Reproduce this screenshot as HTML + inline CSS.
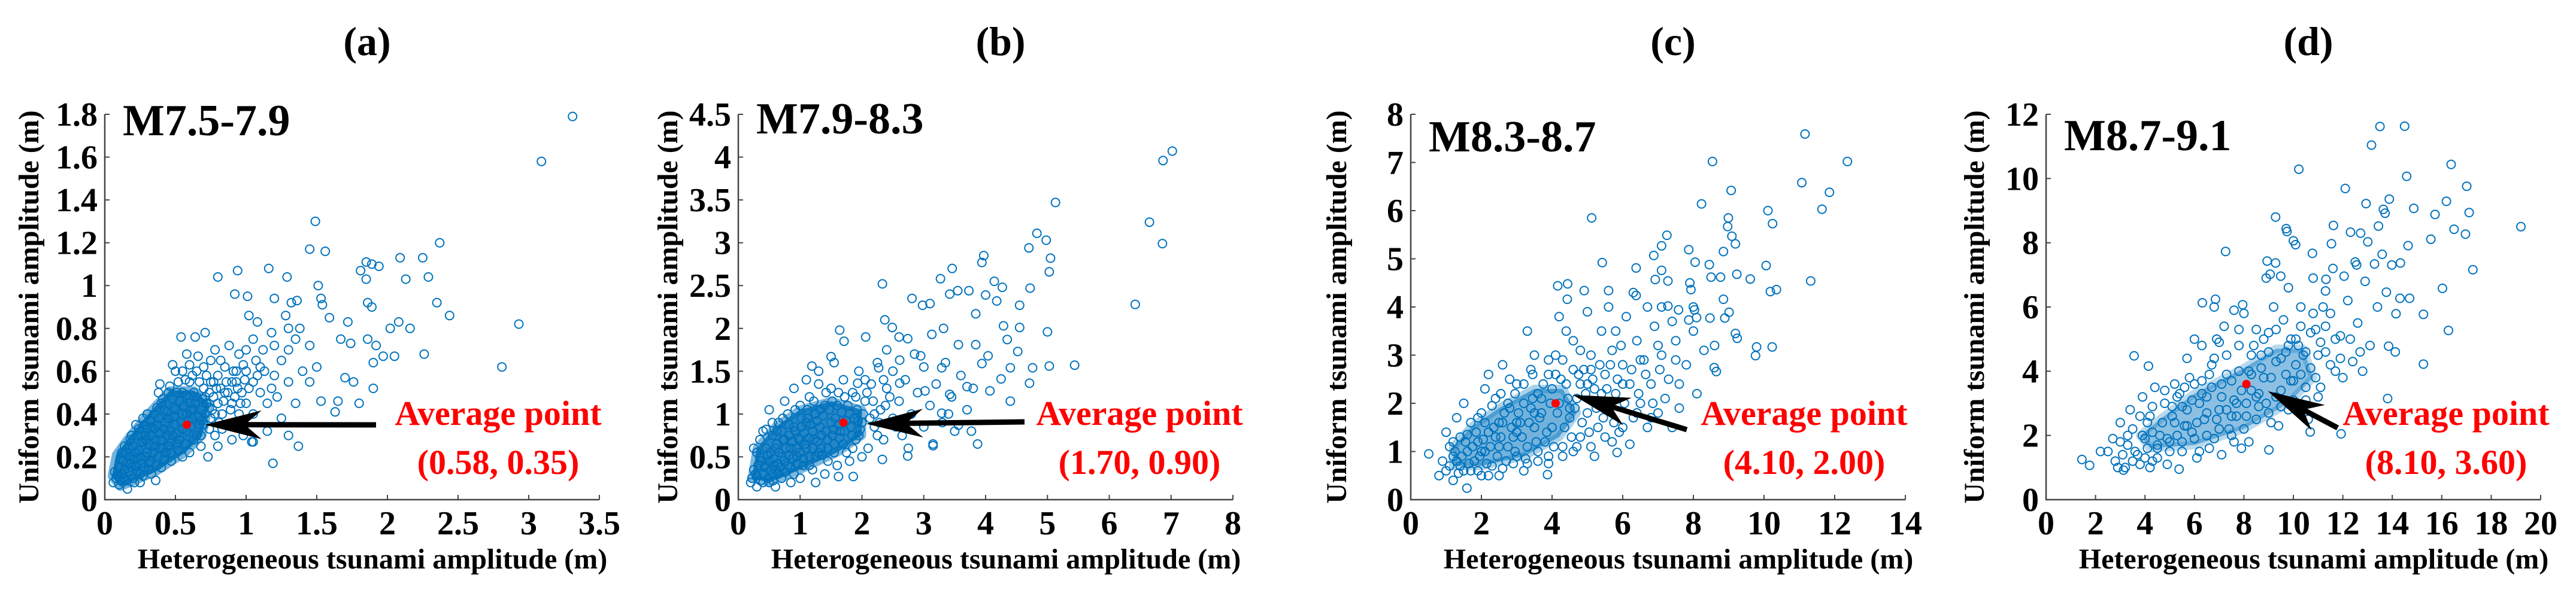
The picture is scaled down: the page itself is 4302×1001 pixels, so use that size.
<!DOCTYPE html>
<html><head><meta charset="utf-8"><style>
html,body{margin:0;padding:0;background:#fff}
svg{display:block}
svg text{font-family:"Liberation Serif","DejaVu Serif","Times New Roman",Times,serif !important;font-weight:bold}
</style></head><body>
<svg id="fig" width="4302" height="1001" viewBox="0 0 4302 1001" xmlns="http://www.w3.org/2000/svg"></svg>
<script>
// ---------- data ----------
const ptsA = [[3.31,1.79],[3.09,1.58],[1.49,1.30],[2.37,1.20],[1.45,1.17],[1.56,1.16],[2.09,1.13],[2.25,1.13],[1.16,1.08],[0.94,1.07],[0.80,1.04],[1.29,1.04],[1.85,1.11],[1.89,1.10],[1.94,1.09],[1.81,1.07],[1.85,1.03],[2.13,1.03],[2.29,1.04],[1.51,1.00],[0.92,0.96],[1.01,0.95],[1.20,0.94],[1.53,0.94],[1.54,0.91],[1.32,0.92],[1.36,0.93],[2.35,0.92],[1.86,0.92],[1.89,0.90],[2.93,0.82],[2.44,0.86],[2.08,0.83],[2.02,0.80],[2.16,0.80],[1.02,0.86],[1.08,0.83],[1.28,0.86],[1.59,0.85],[1.72,0.83],[1.67,0.75],[1.74,0.73],[1.86,0.75],[1.92,0.72],[1.97,0.67],[2.05,0.67],[2.26,0.68],[2.81,0.62],[1.90,0.64],[1.90,0.52],[1.70,0.57],[1.76,0.55],[1.80,0.45],[1.65,0.46],[1.63,0.41],[1.53,0.46],[1.37,0.25],[1.30,0.30],[1.19,0.17],[1.04,0.27],[0.54,0.76],[0.64,0.76],[0.71,0.78],[0.48,0.63],[0.39,0.54],
[0.08,0.10],[0.1,0.07],[0.12,0.12],[0.15,0.09],[0.1,0.15],[0.13,0.18],[0.17,0.13],[0.2,0.1],[0.18,0.2],[0.22,0.16],[0.25,0.12],[0.15,0.22],[0.2,0.25],[0.25,0.2],[0.28,0.15],[0.3,0.22],[0.27,0.27],[0.23,0.3],[0.32,0.18],[0.35,0.25],[0.33,0.3],[0.3,0.33],[0.38,0.2],[0.4,0.28],[0.37,0.35],[0.35,0.4],[0.42,0.33],[0.45,0.25],[0.45,0.38],[0.42,0.42],[0.48,0.3],[0.5,0.35],[0.5,0.42],[0.48,0.47],[0.53,0.28],[0.55,0.4],[0.55,0.5],[0.58,0.32],[0.6,0.45],[0.6,0.55],[0.62,0.38],[0.65,0.3],[0.65,0.48],[0.68,0.42],[0.7,0.35],[0.7,0.52],[0.72,0.45],[0.75,0.38],[0.75,0.55],[0.78,0.3],[0.8,0.45],[0.8,0.58],[0.83,0.4],[0.85,0.5],[0.88,0.35],[0.9,0.55],[0.9,0.45],[0.93,0.6],[0.95,0.4],[0.97,0.5],[1.0,0.45],[1.0,0.6],[1.05,0.55],[1.05,0.4],[1.1,0.5],[1.1,0.62],[1.15,0.45],[1.2,0.58],[1.22,0.48],[1.25,0.65],[1.3,0.55],[1.35,0.45],[1.4,0.6],[1.0,0.7],[1.05,0.75],[1.12,0.7],[1.18,0.78],[0.95,0.68],[0.88,0.72],[0.85,0.62],[0.75,0.65],[0.7,0.62],[0.65,0.6],[0.6,0.63],[0.55,0.6],[0.52,0.55],[0.45,0.5],[0.4,0.45],[0.38,0.5],[0.3,0.4],[0.28,0.35],[0.22,0.35],[0.18,0.28],[0.12,0.22],[0.07,0.13],[0.06,0.08],[0.16,0.05],[0.25,0.08],[0.33,0.12],[0.4,0.15],[0.47,0.18],[0.55,0.2],[0.6,0.22],[0.68,0.25],[0.73,0.2],[0.8,0.25],[0.9,0.28],[0.98,0.3],[1.05,0.27],[1.15,0.32],[1.25,0.38],[0.43,0.22],[0.52,0.23],[0.36,0.09],[0.29,0.28],[0.44,0.3],[0.58,0.4],[0.63,0.5],[0.67,0.35],[0.77,0.48],[0.82,0.52],[0.92,0.48],[1.3,0.7],[1.35,0.75],[1.45,0.55],[1.5,0.62],[1.2,0.72],[1.45,0.72],[1.38,0.8],[1.3,0.8],
[0.09,0.11],[0.11,0.09],[0.14,0.14],[0.16,0.17],[0.19,0.15],[0.21,0.19],[0.24,0.23],[0.26,0.17],[0.29,0.2],[0.31,0.26],[0.34,0.22],[0.36,0.28],[0.39,0.31],[0.41,0.24],[0.43,0.36],[0.46,0.32],[0.49,0.39],[0.51,0.31],[0.54,0.36],[0.56,0.44],[0.59,0.37],[0.61,0.42],[0.64,0.45],[0.66,0.39],[0.69,0.47],[0.71,0.4],[0.74,0.5],[0.76,0.42],[0.79,0.52],[0.81,0.36],[0.84,0.46],[0.86,0.55],[0.89,0.42],[0.91,0.6],[0.94,0.52],[0.96,0.45],[0.99,0.56],[0.14,0.25],[0.19,0.3],[0.24,0.33],[0.27,0.38],[0.32,0.37],[0.37,0.43],[0.41,0.47],[0.46,0.53],[0.51,0.5],[0.57,0.56],[0.62,0.58],[0.67,0.55],[0.72,0.58],[0.21,0.08],[0.27,0.11],[0.31,0.14],[0.37,0.16],[0.42,0.19],[0.47,0.22],[0.51,0.26],[0.57,0.26],[0.63,0.28],[0.68,0.3],[0.74,0.33],[0.78,0.4],[0.83,0.33],[0.11,0.19],[0.17,0.24],[0.26,0.3],[0.33,0.34],[0.38,0.38],[0.44,0.41],[0.49,0.43],[0.53,0.46],[0.58,0.49],[0.63,0.42],[0.71,0.48],[0.77,0.55],[0.87,0.5],[0.93,0.55],[1.02,0.52],[1.08,0.58],[1.13,0.6],[1.18,0.52],[1.07,0.65],[0.98,0.63],[0.82,0.65],[0.78,0.7],[0.66,0.67],[0.58,0.68],[0.5,0.6],[0.35,0.33],[0.29,0.3],[0.22,0.22],[0.18,0.17],[0.13,0.1],[0.23,0.13],[0.31,0.17],[0.39,0.24],[0.47,0.27],[0.55,0.33],[0.61,0.34],[0.69,0.37],[0.74,0.43]];
const ptsB = [[7.02,4.07],[6.87,3.96],[5.13,3.47],[6.65,3.24],[6.86,2.99],[4.83,3.11],[4.98,3.03],[4.70,2.94],[5.05,2.82],[5.03,2.66],[6.42,2.28],[3.97,2.85],[3.94,2.77],[3.46,2.70],[3.27,2.58],[2.33,2.52],[4.14,2.55],[4.27,2.48],[4.72,2.47],[3.42,2.40],[3.55,2.44],[3.73,2.44],[4.00,2.39],[2.81,2.35],[2.98,2.27],[3.10,2.29],[4.18,2.32],[4.55,2.27],[3.84,2.17],[2.37,2.10],[2.49,2.01],[3.32,2.00],[5.00,1.96],[4.55,2.01],[4.29,2.03],[4.35,1.87],[4.52,1.73],[4.04,1.68],[5.44,1.57],[5.03,1.56],[4.76,1.54],[4.40,1.54],[4.71,1.36],[4.40,1.15],[3.87,0.65],[1.64,1.98],[1.71,1.85],[1.50,1.67],[1.19,1.56],
[2.74,1.88],[3.13,1.93],[3.56,1.81],[3.84,1.81],[3.94,1.59],[3.29,1.54],[2.95,1.68],[2.61,1.63],[2.06,1.90],[2.27,1.54],[1.93,1.36],[2.61,1.36],[3.02,1.27],[3.42,1.23],[3.70,1.32],[4.07,1.27],[4.25,1.41],[3.29,1.01],[3.56,0.87],[3.77,0.80],[3.15,0.63],[2.74,0.51],[2.33,0.47],[1.86,0.27],[1.62,0.27],
[0.2,0.2],[0.25,0.35],[0.3,0.15],[0.35,0.5],[0.4,0.3],[0.45,0.6],[0.5,0.2],[0.5,0.45],[0.55,0.75],[0.6,0.35],[0.6,0.6],[0.65,0.9],[0.7,0.25],[0.7,0.5],[0.75,0.7],[0.8,0.4],[0.8,1.0],[0.85,0.6],[0.9,0.3],[0.9,0.85],[0.95,0.5],[1.0,0.7],[1.0,1.1],[1.05,0.4],[1.1,0.9],[1.1,0.6],[1.15,1.2],[1.2,0.35],[1.2,0.8],[1.25,1.0],[1.3,0.55],[1.3,1.35],[1.35,0.75],[1.4,1.1],[1.45,0.45],[1.5,0.9],[1.5,1.3],[1.55,0.65],[1.6,1.1],[1.65,0.8],[1.7,1.4],[1.75,0.55],[1.8,1.0],[1.85,1.25],[1.9,0.7],[1.95,1.5],[2.0,0.9],[2.05,1.15],[2.1,0.6],[2.15,1.35],[2.2,0.85],[2.25,1.6],[2.3,1.05],[2.35,0.7],[2.4,1.3],[2.5,0.95],[2.5,1.5],[2.6,1.15],[2.65,0.75],[2.7,1.4],[2.8,1.0],[2.85,1.7],[2.9,1.25],[3.0,0.85],[3.0,1.55],[3.1,1.1],[3.2,1.35],[3.3,0.9],[3.35,1.6],[3.45,1.2],[3.5,0.8],[3.6,1.45],[3.7,1.05],[3.8,1.3],[0.3,0.55],[0.4,0.8],[0.5,1.05],[0.6,0.15],[0.75,1.15],[0.9,1.3],[1.0,0.25],[1.1,1.4],[1.25,0.2],[1.4,0.3],[1.6,0.4],[1.8,0.45],[2.0,0.5],[0.25,0.6],[0.55,0.3],[0.85,0.2],[1.7,0.65],[1.15,0.5],[1.45,0.6],[0.7,0.8],[1.95,0.75],[2.2,1.0],[2.45,1.2],[2.75,0.6],[3.15,0.65],[3.4,1.0],[1.55,1.6],[1.3,1.5],[2.6,1.9],[2.4,1.75],
[0.22,0.25],[0.28,0.3],[0.32,0.4],[0.38,0.45],[0.42,0.38],[0.47,0.52],[0.52,0.55],[0.57,0.48],[0.62,0.65],[0.66,0.55],[0.72,0.7],[0.77,0.6],[0.82,0.75],[0.87,0.68],[0.92,0.8],[0.97,0.72],[1.02,0.85],[1.07,0.78],[1.12,0.95],[1.17,0.88],[1.22,0.7],[1.27,0.92],[1.32,0.85],[1.37,0.98],[1.42,0.8],[1.47,1.05],[1.52,0.75],[1.57,0.95],[1.62,0.88],[1.67,1.02],[1.72,0.8],[1.77,1.1],[1.82,0.85],[1.87,0.95],[1.92,1.05],[1.97,0.82],[2.02,1.0],[2.08,1.25],[2.13,0.95],[2.18,1.15],[2.28,0.9],[2.38,1.1],[0.3,0.28],[0.36,0.22],[0.44,0.4],[0.52,0.35],[0.58,0.4],[0.64,0.42],[0.68,0.38],[0.74,0.45],[0.82,0.52],[0.88,0.48],[0.94,0.6],[1.0,0.55],[1.08,0.65],[1.14,0.72],[1.2,0.6],[1.28,0.68],[1.34,0.6],[1.44,0.7],[1.54,0.82],[1.64,0.72],[1.74,0.92],[1.84,0.75],[1.94,0.92],[0.35,0.7],[0.45,0.82],[0.55,0.9],[0.62,0.8],[0.72,0.95],[0.82,0.88],[0.92,1.05],[1.02,0.95],[1.12,1.05],[1.22,1.15],[1.32,1.05],[1.42,1.25],[1.52,1.15],[1.62,1.25],[1.72,1.2],[0.4,0.2],[0.48,0.25],[0.56,0.22],[0.65,0.3],[0.75,0.32],[0.85,0.38],[0.95,0.42],[1.05,0.48],[1.15,0.4],[1.25,0.5],[1.35,0.52],[1.55,0.55],[1.85,0.6],[2.25,0.75],[2.55,0.85],[2.35,1.4],[2.05,1.4],[1.9,1.2]];
const ptsC = [[11.16,7.59],[8.54,7.02],[12.36,7.02],[11.07,6.58],[11.85,6.38],[9.07,6.42],[8.23,6.14],[10.11,6.00],[11.64,6.03],[10.24,5.73],[5.12,5.85],[8.99,5.85],[8.97,5.67],[9.09,5.47],[9.19,5.31],[7.25,5.49],[7.10,5.27],[7.87,5.19],[8.85,5.15],[6.88,5.07],[5.42,4.92],[8.05,4.93],[8.45,4.88],[10.06,4.86],[11.32,4.54],[9.23,4.68],[8.77,4.62],[8.50,4.62],[9.61,4.58],[6.38,4.81],[7.10,4.76],[6.92,4.57],[7.28,4.54],[4.16,4.44],[4.44,4.48],[4.91,4.34],[5.60,4.34],[7.93,4.36],[10.35,4.36],[10.18,4.32],[4.43,4.16],[6.38,4.24],[8.85,4.16],[7.28,4.02],[7.58,3.94],[8.03,3.94],[9.01,3.89],[8.09,3.78],[8.47,3.77],[8.89,3.77],[7.87,3.73],[9.19,3.45],[9.24,3.35],[9.79,3.17],[10.23,3.17],[9.76,2.99],[8.59,2.74],[8.65,2.66],[6.20,1.15],[5.84,0.98],[0.51,0.95],[3.87,0.52],[1.59,0.24],
[0.8,0.5],[0.9,0.8],[1.0,0.6],[1.1,1.1],[1.2,0.4],[1.3,0.8],[1.4,1.3],[1.5,0.6],[1.6,1.0],[1.7,1.6],[1.8,0.8],[1.9,1.2],[2.0,0.5],[2.0,1.8],[2.1,1.0],[2.2,1.4],[2.3,0.7],[2.4,2.1],[2.5,1.1],[2.6,1.6],[2.7,0.8],[2.8,1.9],[2.9,1.3],[3.0,2.4],[3.0,0.9],[3.1,1.6],[3.2,2.0],[3.3,1.1],[3.4,2.7],[3.5,1.5],[3.6,0.8],[3.6,2.2],[3.7,1.8],[3.8,1.2],[3.9,2.6],[4.0,1.5],[4.1,3.0],[4.2,2.0],[4.3,1.1],[4.4,2.4],[4.5,1.7],[4.6,3.3],[4.7,2.1],[4.8,1.3],[4.9,2.7],[5.0,1.8],[5.1,3.0],[5.2,2.3],[5.3,1.5],[5.4,3.5],[5.5,2.6],[5.6,1.9],[5.7,3.1],[5.8,2.2],[5.9,1.4],[6.0,2.8],[6.1,3.8],[6.2,2.4],[6.3,1.7],[6.4,3.3],[6.5,2.0],[6.6,2.9],[6.8,2.4],[6.9,3.6],[7.0,1.8],[7.1,3.0],[7.3,2.5],[7.5,3.3],[7.6,1.9],[7.8,2.8],[8.0,3.5],[8.1,2.2],[8.3,3.1],[1.5,2.0],[2.2,2.6],[2.6,2.8],[3.3,3.5],[4.4,3.5],[5.0,3.9],[5.6,4.0],[6.3,4.3],[7.1,4.0],[7.4,3.7],[8.6,3.2],[8.0,4.0],[7.9,4.5],[1.0,1.4],[1.3,1.7],[2.5,0.5],[3.2,0.6],[3.9,0.9],[4.6,1.0],[5.2,0.9],[5.7,1.2],[6.7,1.5],[7.4,1.5],[3.5,3.0],[2.8,2.5],[4.2,3.8],[5.8,3.5],[6.7,4.0],[1.2,0.9],[1.9,0.6],[2.4,1.3],[3.4,1.9],[2.1,2.3],[4.8,2.4],[3.0,1.4],
[1.1,0.7],[1.25,1.0],[1.35,0.55],[1.45,0.9],[1.55,1.2],[1.65,0.75],[1.75,1.1],[1.85,1.4],[1.95,0.9],[2.05,1.25],[2.15,0.75],[2.25,1.1],[2.35,1.5],[2.45,0.9],[2.55,1.3],[2.65,1.8],[2.75,1.1],[2.85,1.5],[2.95,1.0],[3.05,1.8],[3.15,1.3],[3.25,0.85],[3.35,1.6],[3.45,2.1],[3.55,1.2],[3.65,1.7],[3.75,2.4],[3.85,1.4],[3.95,2.0],[4.05,1.1],[4.15,1.8],[4.25,2.5],[4.35,1.5],[4.45,2.1],[4.55,1.3],[4.65,1.9],[4.75,2.6],[4.85,1.6],[4.95,2.2],[5.05,1.4],[5.15,2.5],[5.25,1.9],[5.35,2.8],[5.45,1.7],[5.55,2.3],[5.65,2.8],[5.75,1.6],[5.85,2.5],[5.95,3.2],[6.05,2.0],[6.25,2.7],[6.45,2.2],[6.65,2.6],[6.85,2.0],[7.05,2.7],[1.6,1.35],[1.9,1.7],[2.1,1.6],[2.3,1.95],[2.55,2.2],[2.75,2.0],[2.95,2.2],[3.2,2.4],[3.45,2.6],[3.7,2.1],[3.9,2.9],[4.1,2.6],[4.3,2.9],[4.6,2.7],[4.8,3.1],[5.1,2.7],[5.4,2.2],[1.2,1.2],[1.4,0.7],[1.7,0.6],[2.2,0.5],[2.6,0.65],[2.9,0.75],[3.3,0.75],[3.6,1.0],[3.9,0.75],[4.3,0.9],[4.7,1.1],[5.1,1.1],[5.5,1.3],[6.0,1.5],[6.4,1.8],[6.8,1.7],[7.2,2.1],[7.6,2.4],[2.0,1.0],[2.5,1.6],[3.0,1.6],[3.5,1.8],[4.0,2.3],[4.5,1.9],[5.0,2.4],[5.5,2.0],[6.0,2.4],[6.5,2.9],[7.0,3.2],[7.5,2.9]];
const ptsD = [[13.50,11.62],[14.50,11.63],[13.16,11.04],[10.22,10.29],[16.38,10.44],[14.58,10.07],[17.01,9.76],[12.10,9.69],[13.88,9.36],[12.94,9.22],[16.19,9.29],[13.64,9.04],[14.87,9.07],[13.71,8.92],[17.11,8.94],[15.73,8.88],[9.28,8.80],[19.20,8.50],[11.62,8.54],[13.44,8.52],[16.50,8.42],[9.71,8.44],[9.74,8.35],[12.31,8.33],[12.72,8.30],[16.96,8.27],[15.56,8.11],[10.00,8.06],[10.09,7.94],[13.01,8.03],[14.64,7.91],[11.54,7.97],[7.26,7.73],[10.77,7.67],[13.59,7.64],[17.26,7.16],[14.33,7.37],[8.94,7.43],[9.28,7.37],[12.56,7.31],[13.28,7.34],[13.98,7.31],[9.06,7.02],[9.49,6.96],[12.05,6.96],[11.32,6.86],[13.76,6.46],[16.03,6.58],[14.70,6.27],[14.31,6.27],[6.85,6.24],[6.32,6.13],[7.95,6.07],[14.15,5.79],[15.26,5.77],[16.27,5.27],[15.26,4.22],[13.85,4.78],[14.12,4.60],[3.56,4.48],[4.14,4.16],[13.81,3.15],[11.93,2.05],[10.68,2.11],[9.01,1.55],[5.38,0.95],[1.45,1.25],[1.76,1.07],[3.13,0.92],
[2.5,1.5],[2.8,1.2],[3.0,1.8],[3.2,1.0],[3.5,2.2],[3.7,1.4],[4.0,1.9],[4.2,2.6],[4.3,1.2],[4.6,2.0],[4.8,3.0],[5.0,1.5],[5.2,2.4],[5.4,3.3],[5.5,1.8],[5.7,2.8],[5.9,2.1],[6.0,3.6],[6.2,1.5],[6.4,2.5],[6.5,3.2],[6.7,4.2],[6.8,1.9],[7.0,2.8],[7.1,3.6],[7.3,4.5],[7.4,2.2],[7.6,3.1],[7.8,4.0],[7.9,1.6],[8.1,2.6],[8.3,3.4],[8.4,4.8],[8.6,2.9],[8.8,3.8],[9.0,5.2],[9.1,2.4],[9.3,3.2],[9.5,4.4],[9.6,5.6],[9.8,2.8],[10.0,3.7],[10.2,4.8],[10.3,6.0],[10.5,3.1],[10.7,4.1],[10.9,5.3],[11.1,3.5],[11.3,4.6],[11.5,5.8],[11.7,4.0],[11.9,5.1],[12.2,6.2],[12.4,4.3],[12.6,5.5],[12.9,6.8],[13.1,4.8],[13.4,6.0],[5.2,3.6],[6.3,4.8],[7.2,5.4],[8.0,5.8],[9.2,6.0],[9.8,6.6],[10.8,6.9],[11.6,7.2],[12.5,7.4],[3.9,3.2],[4.4,3.5],[5.7,4.4],[6.9,5.0],[3.4,2.8],[2.2,1.5],[3.8,1.1],[4.9,1.1],[6.1,1.3],[7.1,1.4],[8.2,1.8],[9.4,2.3],[10.6,2.5],[4.1,2.4],[5.1,2.9],[6.6,3.9],[7.7,3.0],[8.7,4.5],[10.1,4.2],[11.0,4.5],[12.0,3.8],[12.8,4.0],[6.8,6.0],[7.6,5.9],[8.5,5.3],[9.9,5.0],[11.3,6.5],[8.9,6.9],[3.3,2.0],[4.5,1.6],[5.6,2.3],[6.2,3.0],[7.5,2.6],[8.6,3.3],[9.7,3.9],[10.4,4.5],
[3.1,1.4],[3.3,1.7],[3.6,1.5],[3.9,2.0],[4.1,1.6],[4.3,2.1],[4.5,1.7],[4.7,2.4],[4.9,1.9],[5.1,2.6],[5.3,2.0],[5.5,2.9],[5.7,2.3],[5.9,3.1],[6.1,2.4],[6.3,3.3],[6.5,2.7],[6.7,3.5],[6.9,2.5],[7.1,3.2],[7.3,2.8],[7.5,3.7],[7.7,2.6],[7.9,3.4],[8.1,3.0],[8.3,3.9],[8.5,3.2],[8.7,4.1],[8.9,3.0],[9.1,3.8],[9.3,4.3],[9.5,3.4],[9.7,4.6],[9.9,3.7],[10.1,5.0],[10.3,3.9],[10.5,4.6],[10.7,5.2],[10.9,3.8],[11.1,4.9],[11.3,5.4],[11.5,4.2],[11.7,5.0],[11.9,4.4],[3.5,1.2],[4.0,1.3],[4.5,1.3],[5.0,1.8],[5.5,1.5],[6.0,1.9],[6.5,2.0],[7.0,2.2],[7.5,2.0],[8.0,2.2],[8.5,2.5],[9.0,2.7],[9.5,2.9],[10.0,3.1],[10.5,3.5],[11.0,3.2],[4.8,3.4],[5.3,3.2],[5.8,3.8],[6.3,3.7],[6.8,4.4],[7.3,3.9],[7.8,4.8],[8.3,4.5],[8.8,5.0],[9.3,5.3],[9.8,4.8],[10.3,5.4],[10.8,5.8],[11.2,6.0],[12.3,5.0],[12.7,4.6],[6.0,5.0],[7.0,4.9],[7.8,5.3],[8.2,4.0],[9.0,4.6],[3.0,2.4],[2.7,1.9],[3.8,2.6],[4.3,2.9],[5.6,3.5],[2.9,1.0],[4.2,1.0],[6.6,1.6],[7.6,1.8]];
// dense-core outlines (data units) where markers overlap into solid colour
const coreA = [[0.05,0.11],[0.11,0.06],[0.36,0.13],[0.57,0.22],[0.69,0.30],[0.74,0.45],[0.63,0.51],[0.46,0.51],[0.32,0.41],[0.18,0.30],[0.08,0.21]];
const coreB = [[0.22,0.25],[0.5,0.2],[1.0,0.35],[1.6,0.55],[2.0,0.75],[2.0,1.05],[1.5,1.15],[1.0,1.05],[0.6,0.85],[0.3,0.6]];
const coreC = [[1.2,0.7],[2.0,0.7],[3.2,0.9],[4.2,1.3],[4.7,1.8],[4.3,2.3],[3.5,2.3],[2.5,1.9],[1.7,1.5],[1.2,1.1]];
const coreD = [[4.2,1.6],[6,1.7],[8,2.2],[9.8,3.0],[10.8,3.8],[10.4,4.7],[9.3,4.7],[8,4.1],[6,3.3],[4.6,2.5],[3.8,2.0]];
const avgX = [0.58, 1.70, 4.10, 8.10];
const avgY = [0.35, 0.90, 2.00, 3.60];
const avgLabels = ["(0.58, 0.35)", "(1.70, 0.90)", "(4.10, 2.00)", "(8.10, 3.60)"];
const xMax = [3.5, 8, 14, 20];
const yMax = [1.8, 4.5, 8, 12];
const xTicks = [[0,0.5,1,1.5,2,2.5,3,3.5],[0,1,2,3,4,5,6,7,8],[0,2,4,6,8,10,12,14],[0,2,4,6,8,10,12,14,16,18,20]];
const yTicks = [[0,0.2,0.4,0.6,0.8,1,1.2,1.4,1.6,1.8],[0,0.5,1,1.5,2,2.5,3,3.5,4,4.5],[0,1,2,3,4,5,6,7,8],[0,2,4,6,8,10,12]];
const panelLetters = ["(a)","(b)","(c)","(d)"];
const magLabels = ["M7.5-7.9","M7.9-8.3","M8.3-8.7","M8.7-9.1"];
const allPts = [ptsA, ptsB, ptsC, ptsD];
const allCores = [coreA, coreB, coreC, coreD];

// ---------- layout ----------
const coreOpacity = [0.9, 0.85, 0.55, 0.45];
const plotL = [175, 1233, 2356, 3417];
const plotW = 826, plotT = 191, plotB = 835;
const yTitleX = [48, 1115, 2232, 3297];
const magY = [226, 223, 253, 251];
const textCX = [832, 1903, 3013, 4085];
const arrowTail = [[628,710],[1711,705],[2817,718],[3904,715]];
const arrowTipOff = [[30,0],[38,2],[29,-14],[36,12]];

const NS = "http://www.w3.org/2000/svg";
const svg = document.getElementById('fig');
function mk(tag, attrs, parent, txt){
  const e = document.createElementNS(NS, tag);
  for (const k in attrs) e.setAttribute(k, attrs[k]);
  if (tag === 'text') {
    e.setAttribute('font-family', 'Liberation Serif, DejaVu Serif, serif');
    e.setAttribute('font-weight', 'bold');
    e.style.fontFamily = '"Liberation Serif", "DejaVu Serif", serif';
  }
  if (txt !== undefined) e.textContent = txt;
  (parent||svg).appendChild(e);
  return e;
}
for (let p = 0; p < 4; p++) {
  const L = plotL[p];
  const sx = v => L + v / xMax[p] * plotW;
  const sy = v => plotB - v / yMax[p] * (plotB - plotT);
  const g = mk('g', {});
  
  

  const t1 = mk('text', {x: L + plotW/2 + 25, y: 92, 'font-size': 68, 'text-anchor': 'middle', fill: '#000'}, g, panelLetters[p]);
  
  

  const core = mk('polygon', {points: allCores[p].map(c => sx(c[0]).toFixed(1) + ',' + sy(c[1]).toFixed(1)).join(' '), fill: '#0072BD', 'fill-opacity': coreOpacity[p], stroke: '#0072BD', 'stroke-opacity': coreOpacity[p] * 0.6, 'stroke-width': 14, 'stroke-linejoin': 'round'}, g);
  
  

  const pg = mk('g', {fill: 'none', stroke: '#0072BD', 'stroke-width': 2}, g);
  
  
  allPts[p].forEach(pt => {
    const c = mk('circle', {cx: sx(pt[0]).toFixed(1), cy: sy(pt[1]).toFixed(1), r: 7}, pg);
    
    
  });

  const ax = mk('path', {d: `M${L},${plotT}V${plotB}H${L+plotW}`, fill: 'none', stroke: '#444', 'stroke-width': 2.5}, g);
  
  
  xTicks[p].forEach(v => {
    const x = sx(v);
    const tk = mk('line', {x1: x, x2: x, y1: plotB, y2: plotB - 8, stroke: '#444', 'stroke-width': 2}, g);
    
    
    const tl = mk('text', {x: x, y: 893, 'font-size': 56, 'text-anchor': 'middle'}, g, String(v));
    
    
  });
  yTicks[p].forEach(v => {
    const y = sy(v);
    const tk = mk('line', {x1: L, x2: L + 8, y1: y, y2: y, stroke: '#444', 'stroke-width': 2}, g);
    
    
    const tl = mk('text', {x: L - 12, y: y + 19, 'font-size': 56, 'text-anchor': 'end'}, g, String(v));
    
    
  });
  const xt = mk('text', {x: L + plotW/2 + 34, y: 950, 'font-size': 48, 'text-anchor': 'middle'}, g, 'Heterogeneous tsunami amplitude (m)');
  
  
  const yt = mk('text', {x: 0, y: 0, 'font-size': 48, 'text-anchor': 'middle', transform: `translate(${yTitleX[p]+16},${(plotT+plotB)/2}) rotate(-90)`}, g, 'Uniform tsunami amplitude (m)');
  
  
  const mt = mk('text', {x: L + 30, y: magY[p], 'font-size': 74}, g, magLabels[p]);
  
  

  const ax0 = sx(avgX[p]), ay0 = sy(avgY[p]);
  const dot = mk('circle', {cx: ax0, cy: ay0, r: 7, fill: '#ff0000'}, g);
  
  

  const tipX = ax0 + arrowTipOff[p][0], tipY = ay0 + arrowTipOff[p][1];
  const [tx, ty] = arrowTail[p];
  const dx = tx - tipX, dy = ty - tipY, len = Math.hypot(dx, dy);
  const ux = dx/len, uy = dy/len, nx = -uy, ny = ux;
  const hl = 95, hw = 24, notch = 72, sw = 4.5;
  const P = (a, b) => `${(tipX + ux*a + nx*b).toFixed(1)},${(tipY + uy*a + ny*b).toFixed(1)}`;
  const arr = mk('polygon', {points: [P(0,0), P(hl,hw), P(notch,sw), P(len,sw), P(len,-sw), P(notch,-sw), P(hl,-hw)].join(' '), fill: '#000'}, g);
  
  

  const at1 = mk('text', {x: textCX[p], y: 710, 'font-size': 58, 'text-anchor': 'middle', fill: '#ff0000'}, g, 'Average point');
  
  
  const at2 = mk('text', {x: textCX[p], y: 792, 'font-size': 58, 'text-anchor': 'middle', fill: '#ff0000'}, g, avgLabels[p]);
  
  
}
</script>
</body></html>
